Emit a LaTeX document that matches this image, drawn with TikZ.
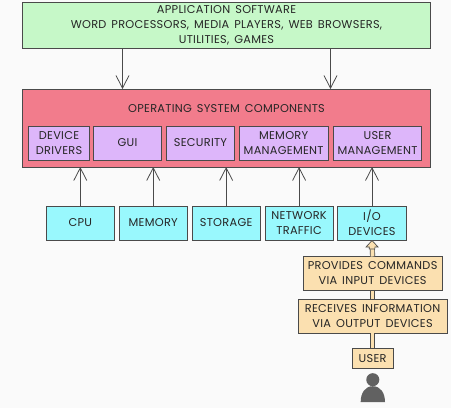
\documentclass[tikz,border=0pt]{standalone}
\usepackage{fontspec}
\setmainfont[LetterSpace=2.5, WordSpace=1.5]{Poppins}
\usetikzlibrary{arrows.meta, positioning, calc}
\definecolor{pagebg}{HTML}{FAFAFA}
\definecolor{appgreen}{HTML}{C6F8C8}
\definecolor{ospink}{HTML}{F27C8C}
\definecolor{partpurple}{HTML}{DDB6FA}
\definecolor{rescyan}{HTML}{99F8FD}
\definecolor{usertan}{HTML}{FBE0B0}
\definecolor{linegrey}{HTML}{4A4A4A}

\begin{document}
\begin{tikzpicture}[
    x=0.75pt, y=-0.75pt,
    every node/.style={font=\fontsize{8.5}{11.2}\selectfont, align=center, inner sep=0pt, text=black!85},
    box/.style={draw=linegrey, line width=0.6pt, outer sep=0pt, minimum height=25.5pt},
    appbox/.style={box, fill=appgreen, minimum width=306.5pt, minimum height=35pt},
    osbox/.style={box, fill=ospink, minimum width=306.5pt, minimum height=58.5pt},
    partbox/.style={box, fill=partpurple},
    resbox/.style={box, fill=rescyan, minimum width=51.3pt},
    userbox/.style={box, fill=usertan},
    flow/.style={draw=linegrey, line width=0.6pt, -{Straight Barb[length=9.5pt, width=9.8pt]}},
    fatflow/.style={draw=linegrey, line width=0.5pt, double=usertan, double distance=2.8pt}
]
\useasboundingbox[fill=pagebg] (0,0) rectangle (451,408);

\node[appbox] (app) at (226.5,25.5) {APPLICATION SOFTWARE\\WORD PROCESSORS, MEDIA PLAYERS, WEB BROWSERS,\\UTILITIES, GAMES};
\node[osbox] (os) at (226.5,128) {};
\node (ostitle) at (226.5,108.5) {OPERATING SYSTEM COMPONENTS};

% parts inside the os box
\node[partbox, minimum width=45.8pt] (drivers) at (59,143) {DEVICE\\DRIVERS};
\node[partbox, minimum width=51pt, right=3pt of drivers] (gui) {GUI};
\node[partbox, minimum width=51pt, right=3.7pt of gui] (security) {SECURITY};
\node[partbox, minimum width=66.4pt, right=3.7pt of security] (memman) {MEMORY\\MANAGEMENT};
\node[partbox, minimum width=66.4pt, right=4pt of memman] (userman) {USER\\MANAGEMENT};

% resources row
\node[resbox] (cpu) at (80.3,223) {CPU};
\node[resbox, right=3.4pt of cpu] (memory) {MEMORY};
\node[resbox, right=3.4pt of memory] (storage) {STORAGE};
\node[resbox, right=3.4pt of storage] (network) {NETWORK\\TRAFFIC};
\node[resbox, right=3.4pt of network] (io) {I/O\\DEVICES};

% user stack
\node[userbox, minimum width=104pt] (provides) at (372.6,273.5) {PROVIDES COMMANDS\\VIA INPUT DEVICES};
\node[userbox, minimum width=112pt, below=6.7pt of provides] (receives) {RECEIVES INFORMATION\\VIA OUTPUT DEVICES};
\node[userbox, minimum width=31pt, minimum height=15.5pt, below=11pt of receives] (user) {USER};

\draw[fatflow] (user.north) -- (receives.south);
\draw[fatflow] (receives.north) -- (provides.south);
\draw[fatflow, shorten >=4pt] (provides.north) -- (io.south);
\draw[draw=linegrey, line width=0.5pt, fill=usertan] ($(io.south)+(0,0.5)$) -- ++(6,6.5) -- ++(-3.2,0) -- ++(0,2) -- ++(-5.6,0) -- ++(0,-2) -- ++(-3.2,0) -- cycle;

\draw[flow] ($(app.south)+(-104,0)$) -- ($(os.north)+(-104,0)$);
\draw[flow] ($(app.south)+(104,0)$) -- ($(os.north)+(104,0)$);
\foreach \res in {cpu, memory, storage, network, io}
    \draw[flow] (\res.north) -- (\res.north |- os.south);

% person
\node[circle, fill=black!62, minimum size=9.8pt] (head) at (372.8,379.7) {};
\fill[black!62] (360.7,402) .. controls (360.7,393) and (365,386.2) .. (372.8,386.2) .. controls (380.6,386.2) and (385,393) .. (385,402) -- cycle;
\end{tikzpicture}
\end{document}
